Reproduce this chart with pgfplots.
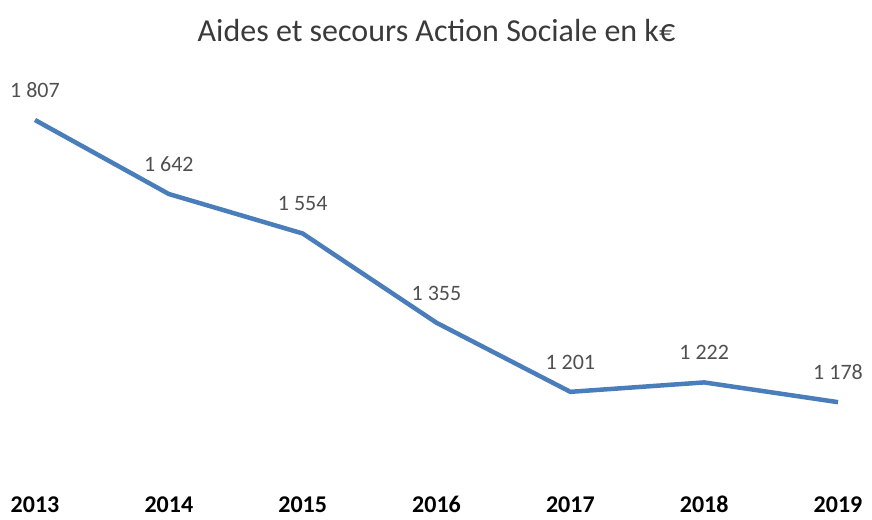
\documentclass[border=0pt]{standalone}
\usepackage{pgfplots}
\pgfplotsset{compat=1.18}
\usepackage{fontspec}
\setmainfont{Carlito}
\definecolor{linecol}{HTML}{4A7EBB}
\definecolor{lblcol}{HTML}{505050}
\definecolor{titlecol}{HTML}{3A3A3A}
\begin{document}
\begin{tikzpicture}
\useasboundingbox (-35pt,-37pt) rectangle (837pt,482pt);
\begin{axis}[
  scale only axis,
  width=803pt, height=362pt,
  xmin=0, xmax=6, ymin=1000, ymax=1807,
  axis x line*=bottom,
  x axis line style={draw=none},
  hide y axis,
  major tick length=0pt,
  clip=false,
  xtick={0,1,2,3,4,5,6},
  xticklabels={2013,2014,2015,2016,2017,2018,2019},
  xticklabel style={font=\fontsize{24}{28}\selectfont\bfseries, text=black, anchor=base, yshift=-30pt},
  ytick=\empty,
  nodes near coords,
  nodes near coords style={font=\fontsize{22}{26}\selectfont, text=lblcol, anchor=south, yshift=17pt},
  point meta=explicit symbolic,
  title={Aides et secours Action Sociale en k€},
  title style={font=\fontsize{32}{37}\selectfont, text=titlecol, anchor=base, at={(0.5,1)}, yshift=72pt},
]
\addplot[color=linecol, line width=4.5pt, line join=round, mark=none] coordinates {
  (0,1807) [1 807]
  (1,1642) [1 642]
  (2,1554) [1 554]
  (3,1355) [1 355]
  (4,1201) [1 201]
  (5,1222) [1 222]
  (6,1178) [1 178]
};
\end{axis}
\end{tikzpicture}
\end{document}
